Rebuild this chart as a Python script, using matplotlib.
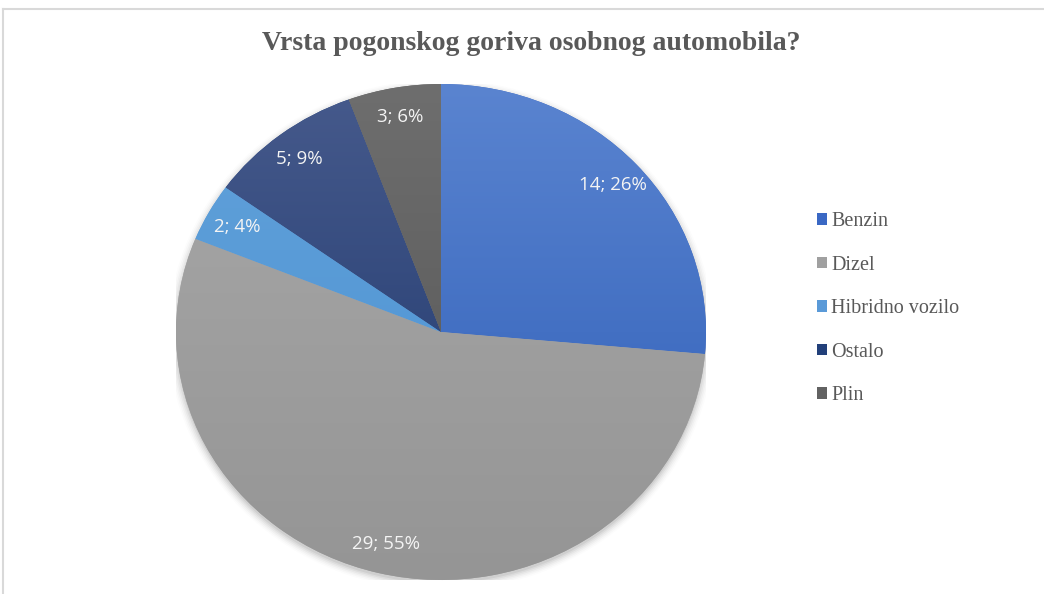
import matplotlib
matplotlib.use("Agg")
import matplotlib.pyplot as plt
import numpy as np
from matplotlib.colors import LinearSegmentedColormap
from matplotlib.patches import Rectangle, Ellipse

title = "Vrsta pogonskog goriva osobnog automobila?"
categories = ["Benzin", "Dizel", "Hibridno vozilo", "Ostalo", "Plin"]
values = [14, 29, 2, 5, 3]
percents = [26, 55, 4, 9, 6]
colors_top = ["#5A84D0", "#A8A8A8", "#62A2DA", "#465A8C", "#6E6E6E"]
colors_bot = ["#2C5CB6", "#959595", "#4A90D2", "#1C356A", "#535353"]
legend_colors = ["#3A68C4", "#A0A0A0", "#5A9AD8", "#22407A", "#626262"]

W, H = 1044, 594
fig = plt.figure(figsize=(W / 100, H / 100), dpi=100)
fig.patch.set_facecolor("white")

# frame
fig.add_artist(plt.Line2D([3 / W, 3 / W], [0, 1 - 9 / H], color="#D9D9D9", lw=1.5))
fig.add_artist(plt.Line2D([3 / W, 1], [1 - 9 / H, 1 - 9 / H], color="#D9D9D9", lw=1.5))

cx, cy, rx, ry = 441, 332, 265, 248
ax = fig.add_axes([(cx - rx) / W, (H - cy - ry) / H, 2 * rx / W, 2 * ry / H])

# soft shadow
for i, a in enumerate(np.linspace(0.05, 0.01, 6)):
    ax.add_patch(Ellipse((0.0, -0.012), 2 + 0.012 * i, 2 + 0.012 * i, facecolor="black",
                         alpha=a, edgecolor="none", zorder=0))

labels = [f"{v}; {p}%" for v, p in zip(values, percents)]
wedges, texts = ax.pie(values, startangle=90, counterclock=False, labels=labels,
                       labeldistance=0.88,
                       colors=legend_colors,
                       wedgeprops=dict(linewidth=0),
                       textprops=dict(color="#F4F4F4", fontsize=13.5, family="Open Sans",
                                      ha="center", va="center"))
ax.set_aspect("auto")
ax.set_xlim(-1, 1)
ax.set_ylim(-1, 1)
ax.axis("off")

grad = np.linspace(0, 1, 256).reshape(-1, 1)
for w, ct, cb in zip(wedges, colors_top, colors_bot):
    cmap = LinearSegmentedColormap.from_list("g", [ct, cb])
    im = ax.imshow(grad, cmap=cmap, extent=(-1, 1, -1, 1), origin="upper",
                   aspect="auto", zorder=1.5)
    im.set_clip_path(w)
for t in texts:
    t.set_zorder(3)
ax.set_xlim(-1, 1)
ax.set_ylim(-1, 1)

fig.text(531 / W, 1 - 44 / H, title, ha="center", va="center",
         fontsize=20, fontweight="bold", family="Liberation Serif", color="#595959")

handles = [Rectangle((0, 0), 1, 1, facecolor=c, edgecolor="none") for c in legend_colors]
leg = fig.legend(handles, categories, loc="upper left",
                 bbox_to_anchor=(809 / W, 1 - 204 / H), frameon=False,
                 prop=dict(family="Liberation Serif", size=14.5),
                 handlelength=0.5, handleheight=0.5, handletextpad=0.2,
                 labelspacing=1.22, borderaxespad=0)
for t in leg.get_texts():
    t.set_color("#595959")

fig.savefig("out.png", dpi=100, facecolor="white")
